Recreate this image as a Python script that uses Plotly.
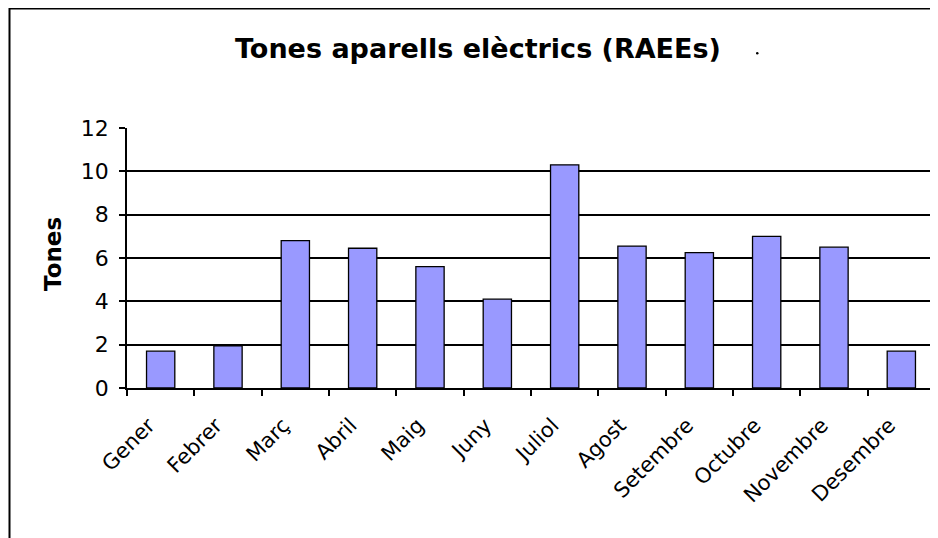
import plotly.graph_objects as go

months = ["Gener", "Febrer", "Març", "Abril", "Maig", "Juny", "Juliol",
          "Agost", "Setembre", "Octubre", "Novembre", "Desembre"]
tones = [1.7, 1.95, 6.8, 6.45, 5.6, 4.1, 10.3, 6.55, 6.25, 7.0, 6.5, 1.7]
y_ticks = [0, 2, 4, 6, 8, 10, 12]

title_text = "Tones aparells elèctrics (RAEEs)"
y_title = "Tones"

FONT = "DejaVu Sans, Arial, sans-serif"

# page body has an 8px margin, so figure coords = screen coords - 8
W, H = 930, 530
PL, PR, PT, PB = 127, 935, 128, 388  # plot area in screen coords
PW, PH = PR - PL, PB - PT


def px(X):
    return (X - PL) / PW


def py(Y):
    return 1 + (PT - Y) / PH


fig = go.Figure()
fig.add_trace(go.Bar(
    x=months, y=tones,
    marker=dict(color="#9999FF", line=dict(color="black", width=1.3)),
    width=0.42,
))

fig.update_layout(
    width=W, height=H,
    margin=dict(l=PL - 8, r=W - (PR - 8), t=PT - 8, b=H - (PB - 8)),
    paper_bgcolor="white", plot_bgcolor="white",
    showlegend=False,
    font=dict(family=FONT, color="black", size=16),
    bargap=0.58,
)
fig.add_annotation(text="<b>" + title_text + "</b>", xref="paper", yref="paper",
                   x=px(477.5), y=py(48), xanchor="center", yanchor="middle",
                   showarrow=False, font=dict(family=FONT, size=27, color="black"))
fig.add_annotation(text="<b>" + y_title + "</b>", xref="paper", yref="paper",
                   x=px(53), y=py(254), xanchor="center", yanchor="middle", textangle=-90,
                   showarrow=False, font=dict(family=FONT, size=23, color="black"))

fig.update_xaxes(
    type="category", showline=True, linecolor="black", linewidth=1.5,
    ticks="outside", tickson="boundaries", ticklen=6, tickcolor="black", tickwidth=1.5,
    tickangle=-45, tickfont=dict(family=FONT, size=21, color="black"),
    ticklabelstandoff=15, ticklabelshift=-12,
    showgrid=False, fixedrange=True,
)
fig.update_yaxes(
    range=[0, 12], tickvals=y_ticks, showline=True, linecolor="black", linewidth=1.5,
    ticks="outside", ticklen=6, tickcolor="black", tickwidth=1.5,
    showgrid=True, gridcolor="black", gridwidth=1.5,
    zeroline=False, ticklabelstandoff=6,
    tickfont=dict(family=FONT, size=22, color="black"),
)
# outer chart border
fig.add_shape(type="rect", xref="paper", yref="paper",
              x0=px(9.5), x1=1.2, y0=-1.0, y1=py(8.5),
              line=dict(color="black", width=2), fillcolor="rgba(0,0,0,0)", layer="above")
# small stray dot after the title, as in the original
fig.add_shape(type="circle", xref="paper", yref="paper",
              x0=px(756), x1=px(758.5), y0=py(54.5), y1=py(52),
              line=dict(width=0), fillcolor="black")

fig.write_html("out.html")
